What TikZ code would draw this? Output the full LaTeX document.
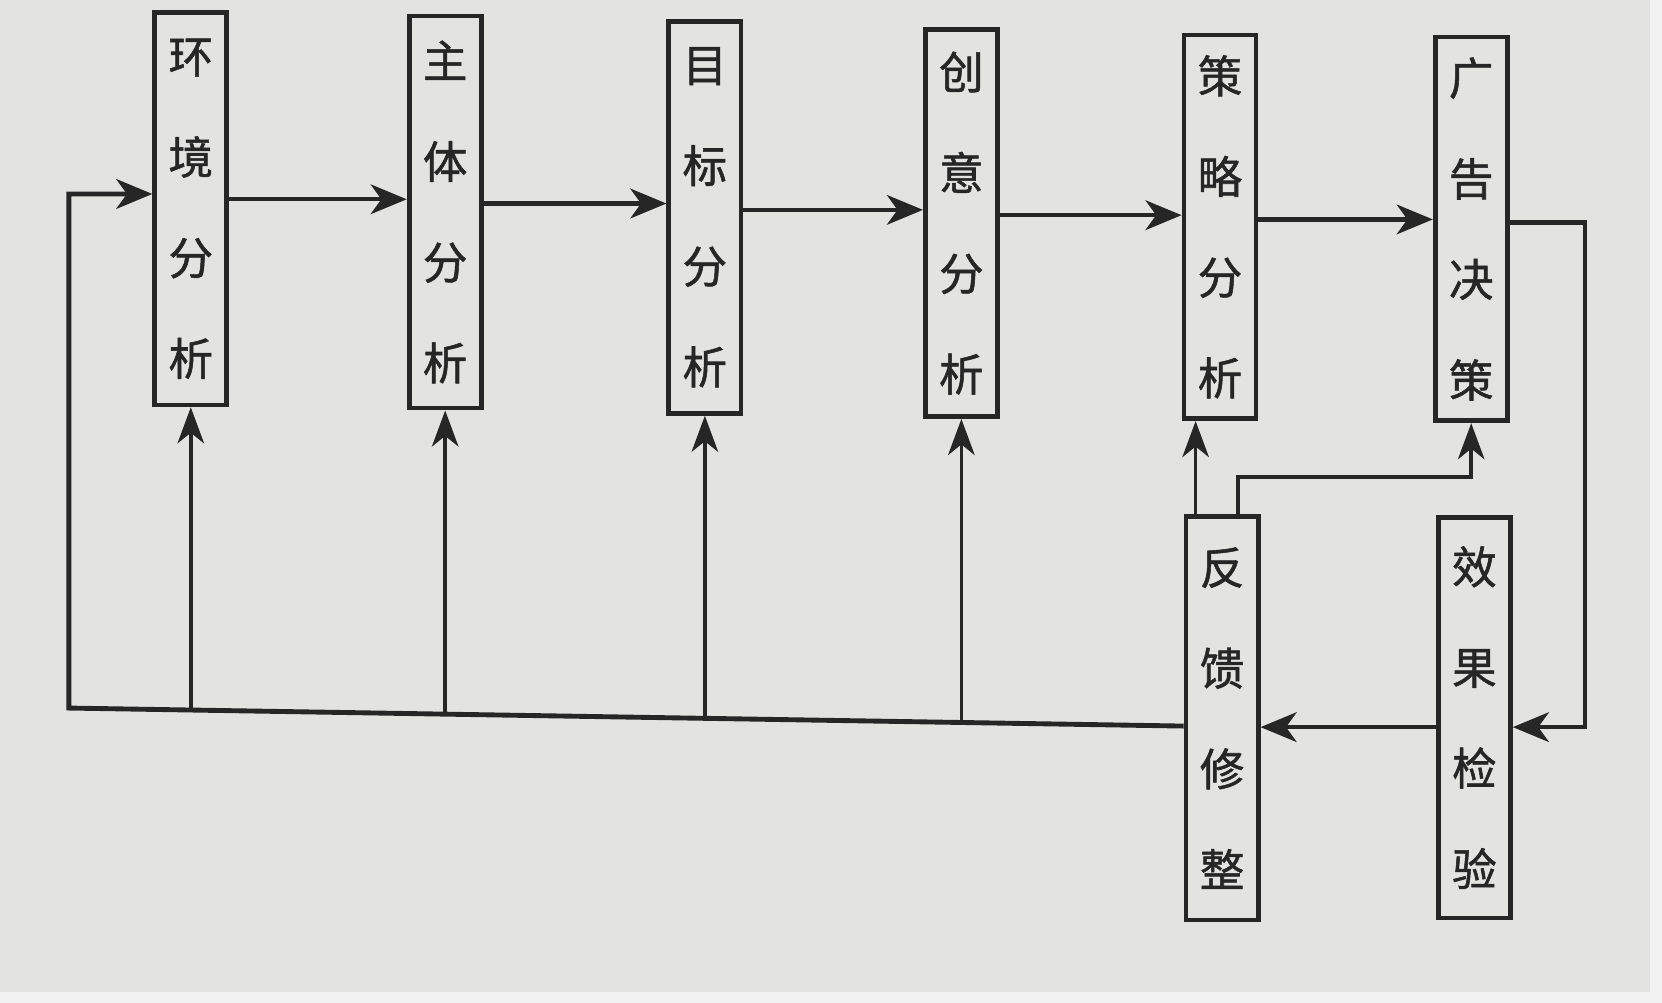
\documentclass[tikz,border=0pt]{standalone}
\usepackage{fontspec}
\newfontfamily\cjk[FakeBold=1.2]{Noto Sans CJK SC}
\usetikzlibrary{arrows.meta,calc}
\definecolor{paper}{HTML}{E3E3E2}
\definecolor{ink}{HTML}{262626}
\definecolor{edge}{HTML}{F2F2F2}
\tikzset{
  vbox/.style={draw=ink, line width=4.5pt, fill=paper, minimum width=68pt,
    inner sep=0pt, font=\cjk\fontsize{42}{95}\selectfont, align=center, text=ink},
  arr/.style={draw=ink, line width=4pt, -{Stealth[length=34pt,width=28pt,inset=10pt]}},
  thinarr/.style={draw=ink, line width=3.5pt, -{Stealth[length=34pt,width=25pt,inset=10pt]}},
}
\begin{document}
\begin{tikzpicture}[x=1pt,y=-1pt]
\useasboundingbox (0,0) rectangle (1568,946);
\fill[paper] (0,0) rectangle (1568,946);
\fill[edge] (1557,0) rectangle (1568,946);
\fill[edge] (0,936) rectangle (1557,946);

% top row
\node[vbox, minimum height=370pt] (b1) at (180,197) {环\\境\\分\\析};
\node[vbox, minimum height=370pt] (b2) at (420,200) {主\\体\\分\\析};
\node[vbox, minimum height=370pt] (b3) at (665,205) {目\\标\\分\\析};
\node[vbox, minimum height=365pt] (b4) at (907,210.5) {创\\意\\分\\析};
\node[vbox, minimum height=362pt] (b5) at (1151,214) {策\\略\\分\\析};
\node[vbox, minimum height=362pt] (b6) at (1388,216) {广\\告\\决\\策};
% bottom right
\node[vbox, minimum height=381pt] (b7) at (1153,677.5) {反\\馈\\修\\整};
\node[vbox, minimum height=378pt] (b8) at (1391,677) {效\\果\\检\\验};

% forward chain
\draw[arr] (b1.east |- 0,188) -- (b2.west |- 0,188);
\draw[arr] (b2.east |- 0,192) -- (b3.west |- 0,192);
\draw[arr] (b3.east |- 0,198) -- (b4.west |- 0,198);
\draw[arr] (b4.east |- 0,203) -- (b5.west |- 0,203);
\draw[arr] (b5.east |- 0,207) -- (b6.west |- 0,207);

% decision -> effect check
\coordinate (r1) at (1495,210);
\coordinate (r2) at (1495,686);
\draw[arr] (b6.east |- r1) -- (r1) -- (r2) -- (b8.east |- r2);

% effect check -> feedback
\draw[arr] (b8.west |- 0,686) -- (b7.east |- 0,686);

% feedback -> back to all analyses
\coordinate (L1) at (65,668);
\coordinate (L0) at (65,183);
\draw[arr, line width=4.6pt] (b7.west |- 0,685) -- (L1) -- (L0) -- (b1.west |- L0);
\draw[thinarr] (b1.south |- 0,670) -- (b1.south);
\draw[thinarr] (b2.south |- 0,674) -- (b2.south);
\draw[thinarr] (b3.south |- 0,678) -- (b3.south);
\draw[thinarr] (b4.south |- 0,682) -- (b4.south);

% feedback -> strategy and decision
\draw[thinarr] (b7.north -| 1128,0) -- (b5.south -| 1128,0);
\coordinate (f1) at (1168,450);
\draw[thinarr] (b7.north -| f1) -- (f1) -- (b6.south |- f1) -- (b6.south);
\end{tikzpicture}
\end{document}
